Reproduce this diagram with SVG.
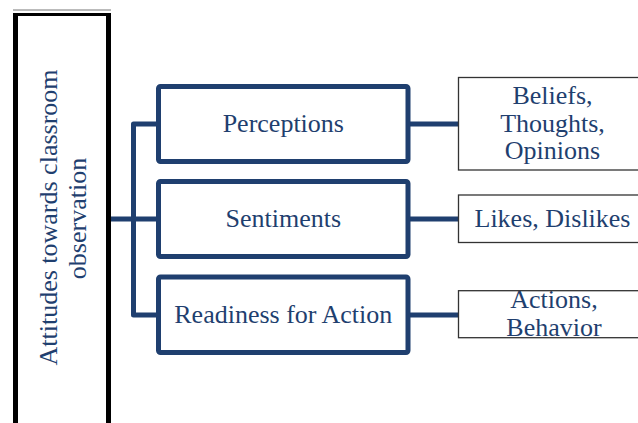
<svg xmlns="http://www.w3.org/2000/svg" width="638" height="423" viewBox="0 0 638 423">
  <style>
    .lbl { font-family: "Liberation Serif", "Times New Roman", serif; font-size: 26px; fill: #1F3F6F; text-anchor: middle; }
    .mid { fill: #ffffff; stroke: #1F3F6F; stroke-width: 5; }
    .leaf { fill: #ffffff; stroke: #333333; stroke-width: 1.3; }
    .wire { fill: none; stroke: #1F3F6F; stroke-width: 5; stroke-linejoin: round; }
  </style>
  <rect width="638" height="423" fill="#ffffff"/>

  <!-- connectors -->
  <g id="connectors">
    <path class="wire" d="M110,219 H158"/>
    <path class="wire" d="M158,124 H133.5 V315 H158"/>
    <path class="wire" d="M408,124 H458"/>
    <path class="wire" d="M408,219 H458"/>
    <path class="wire" d="M408,315 H458"/>
  </g>

  <!-- root: vertical title panel -->
  <g id="root">
    <line x1="13" y1="10" x2="111" y2="10" stroke="#777777" stroke-width="1"/>
    <rect x="15.5" y="14.5" width="93" height="420" fill="#ffffff" stroke="none"/>
    <line x1="13" y1="14.5" x2="111" y2="14.5" stroke="#000000" stroke-width="3"/>
    <line x1="15.5" y1="13" x2="15.5" y2="430" stroke="#000000" stroke-width="5"/>
    <line x1="108.5" y1="13" x2="108.5" y2="430" stroke="#000000" stroke-width="5"/>
    <text class="lbl" transform="translate(56.5,217.5) rotate(-90)">Attitudes towards classroom</text>
    <text class="lbl" transform="translate(86,218.5) rotate(-90)">observation</text>
  </g>

  <!-- component nodes -->
  <g id="perceptions">
    <rect class="mid" x="158.5" y="86.5" width="249.5" height="75" rx="2"/>
    <text class="lbl" x="283.3" y="132.3">Perceptions</text>
  </g>
  <g id="sentiments">
    <rect class="mid" x="158.5" y="181.5" width="249.5" height="75" rx="2"/>
    <text class="lbl" x="283.3" y="226.7">Sentiments</text>
  </g>
  <g id="readiness">
    <rect class="mid" x="158.5" y="277" width="249.5" height="75.5" rx="2"/>
    <text class="lbl" x="283.3" y="323.3">Readiness for Action</text>
  </g>

  <!-- leaf nodes -->
  <g id="beliefs">
    <rect class="leaf" x="458.5" y="77.5" width="190" height="92.5"/>
    <text class="lbl" x="552.5" y="104.3">Beliefs,</text>
    <text class="lbl" x="552.5" y="131.8">Thoughts,</text>
    <text class="lbl" x="552.5" y="159.3">Opinions</text>
  </g>
  <g id="likes">
    <rect class="leaf" x="458.5" y="195" width="190" height="47.5"/>
    <text class="lbl" x="552.5" y="226.7">Likes, Dislikes</text>
  </g>
  <g id="actions">
    <text class="lbl" x="554" y="308.3">Actions,</text>
    <text class="lbl" x="554" y="336">Behavior</text>
    <rect class="leaf" x="458.5" y="290.7" width="190" height="47" fill="none" style="fill:none"/>
  </g>
</svg>
